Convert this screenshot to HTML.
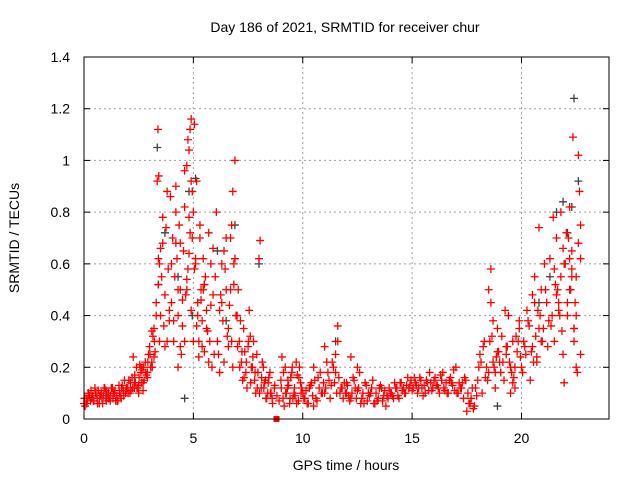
<!DOCTYPE html>
<html><head><meta charset="utf-8"><style>
body{margin:0;background:#fff;}
svg{display:block;font-family:"Liberation Sans",sans-serif;}
</style></head><body>
<svg id="chart" width="640" height="480">
<text x="345" y="32" font-size="14" text-anchor="middle">Day 186 of 2021, SRMTID for receiver chur</text>
<text x="346" y="470" font-size="14" text-anchor="middle">GPS time / hours</text>
<text transform="translate(19,238) rotate(-90)" font-size="14" text-anchor="middle">SRMTID / TECUs</text>
<g id="grid"></g>
<g id="ticks"></g>
<g id="gray"></g>
<g id="red"></g>
<rect x="84" y="57" width="525" height="362" fill="none" stroke="#000" stroke-width="1"/>
</svg>
<script>
const xTicks=[0,5,10,15,20];
const yTicks=[0,0.2,0.4,0.6,0.8,1,1.2,1.4];
const yTickLabels=["0","0.2","0.4","0.6","0.8","1","1.2","1.4"];
const hoursRed=[
0,0.1,0.2,0.3,0.4,0.5,0.6,0.7,0.8,0.9,1.0,1.1,1.2,1.3,1.4,1.5,1.6,1.7,1.8,1.9,0.05,0.25,0.45,0.65,0.85,1.05,1.25,1.45,1.65,1.85,
2.0,2.1,2.2,2.3,2.4,2.5,2.6,2.7,2.8,2.9,2.05,2.25,2.45,2.65,2.85,2.15,2.35,2.55,2.75,2.95,
3.0,3.1,3.2,3.3,3.4,3.35,3.38,3.42,3.45,3.5,3.55,3.6,3.65,3.7,3.75,3.8,3.85,3.9,3.95,3.05,3.15,3.25,3.3,3.4,3.5,3.6,3.7,3.8,3.9,3.45,
4.0,4.05,4.1,4.15,4.2,4.25,4.3,4.35,4.4,4.45,4.5,4.55,4.6,4.65,4.7,4.75,4.8,4.85,4.9,4.95,4.0,4.1,4.2,4.3,4.4,4.5,4.6,4.7,4.8,4.9,4.75,4.8,4.85,4.9,4.95,4.6,4.7,4.3,4.2,4.4,
5.0,5.05,5.1,5.15,5.2,5.25,5.3,5.35,5.4,5.45,5.5,5.55,5.6,5.65,5.7,5.75,5.8,5.85,5.9,5.95,5.0,5.1,5.2,5.3,5.4,5.5,5.6,5.7,5.8,5.9,5.05,5.15,5.25,5.35,5.45,
6.0,6.1,6.2,6.3,6.4,6.5,6.6,6.7,6.8,6.9,6.05,6.15,6.25,6.35,6.45,6.55,6.65,6.75,6.85,6.95,6.2,6.4,6.6,6.7,6.8,6.9,6.75,6.85,6.5,6.3,
7.0,7.1,7.2,7.3,7.4,7.5,7.6,7.7,7.8,7.9,7.05,7.15,7.25,7.35,7.45,7.55,7.65,7.75,7.85,7.95,8.0,8.05,8.1,8.2,8.3,8.4,8.5,8.6,8.7,8.15,8.25,8.35,8.45,8.55,
9.0,9.1,9.2,9.3,9.4,9.5,9.6,9.7,9.8,9.9,9.05,9.25,9.45,9.65,9.85,9.15,9.35,9.55,9.75,9.95,
10.0,10.2,10.4,10.6,10.8,11.0,11.2,11.4,11.6,11.8,10.1,10.3,10.5,10.7,10.9,11.1,11.3,11.5,11.7,11.9,10.5,11.0,11.5,11.6,12.0,
12.0,12.2,12.4,12.6,12.8,13.0,13.2,13.4,13.6,13.8,12.1,12.3,12.5,12.7,12.9,13.1,13.3,13.5,13.7,13.9,12.5,12.2,
14.0,14.2,14.4,14.6,14.8,15.0,15.2,15.4,15.6,15.8,14.1,14.3,14.5,14.7,14.9,15.1,15.3,15.5,15.7,15.9,
16.0,16.2,16.4,16.6,16.8,17.0,17.2,17.4,17.6,17.8,16.1,16.3,16.5,16.7,16.9,17.1,17.3,17.5,17.7,17.9,
18.0,18.1,18.2,18.3,18.4,18.5,18.6,18.7,18.8,18.9,18.05,18.25,18.45,18.65,18.85,18.5,18.7,18.9,18.6,18.8,
19.0,19.1,19.2,19.3,19.4,19.5,19.6,19.7,19.8,19.9,19.05,19.25,19.45,19.65,19.85,19.3,19.5,19.7,19.9,19.6,
20.0,20.1,20.2,20.3,20.4,20.5,20.6,20.7,20.8,20.9,20.05,20.25,20.45,20.65,20.85,20.6,20.8,20.9,20.7,20.5,
21.0,21.1,21.2,21.3,21.4,21.5,21.6,21.7,21.8,21.9,21.05,21.25,21.45,21.65,21.85,21.5,21.7,21.9,21.8,21.6,
22.0,22.1,22.2,22.3,22.4,22.5,22.6,22.7,22.05,22.25,22.45,22.65,22.2,22.35,22.5,22.6,22.7,22.4,22.3,22.55,21.95,22.15
];
const valuesRed=[
0.06,0.08,0.1,0.07,0.09,0.12,0.08,0.06,0.1,0.09,0.11,0.08,0.07,0.12,0.1,0.09,0.13,0.08,0.11,0.1,0.05,0.09,0.07,0.11,0.06,0.1,0.12,0.07,0.09,0.15,
0.12,0.1,0.16,0.14,0.2,0.13,0.18,0.11,0.22,0.16,0.15,0.24,0.12,0.19,0.17,0.11,0.14,0.21,0.15,0.25,
0.28,0.22,0.35,0.45,0.62,0.92,1.12,0.94,0.3,0.4,0.55,0.68,0.36,0.48,0.74,0.3,0.58,0.42,0.86,0.2,0.32,0.26,0.4,0.52,0.66,0.78,0.28,0.88,0.38,0.6,
0.45,0.7,0.3,0.55,0.9,0.62,0.4,0.75,0.5,0.25,0.36,0.65,0.82,0.48,0.98,0.58,1.04,0.72,0.42,0.88,0.6,0.38,0.8,0.2,0.68,0.46,0.3,0.54,0.64,1.16,1.08,0.78,1.12,0.92,0.7,0.96,0.5,0.5,0.68,0.28,
0.8,1.14,0.62,0.92,0.45,0.3,0.7,0.5,0.38,0.62,0.26,0.55,0.42,0.34,0.72,0.3,0.6,0.2,0.48,0.25,0.3,0.6,0.4,0.75,0.28,0.52,0.35,0.22,0.44,0.66,0.58,0.36,0.24,0.46,0.5,
0.55,0.3,0.42,0.6,0.22,0.7,0.35,0.5,0.2,0.62,0.8,0.25,0.48,0.38,0.58,0.32,0.44,0.3,0.52,0.4,0.18,0.65,0.28,0.7,0.88,1.0,0.75,0.6,0.5,0.45,
0.4,0.3,0.22,0.35,0.18,0.28,0.32,0.2,0.15,0.25,0.5,0.38,0.15,0.26,0.12,0.42,0.2,0.3,0.1,0.18,0.62,0.69,0.12,0.2,0.15,0.1,0.18,0.08,0.12,0.22,0.14,0.08,0.16,0.1,
0.15,0.08,0.2,0.12,0.06,0.18,0.1,0.22,0.07,0.14,0.24,0.1,0.16,0.09,0.2,0.05,0.13,0.08,0.17,0.12,
0.1,0.06,0.14,0.08,0.18,0.1,0.15,0.2,0.36,0.12,0.08,0.12,0.05,0.16,0.1,0.22,0.13,0.25,0.1,0.14,0.2,0.28,0.18,0.3,0.1,
0.14,0.08,0.12,0.18,0.06,0.1,0.15,0.07,0.12,0.05,0.09,0.16,0.11,0.08,0.13,0.1,0.06,0.12,0.09,0.08,0.2,0.24,
0.1,0.14,0.08,0.12,0.16,0.11,0.13,0.15,0.1,0.18,0.09,0.12,0.14,0.1,0.13,0.16,0.12,0.09,0.14,0.11,
0.15,0.12,0.18,0.1,0.14,0.2,0.12,0.16,0.06,0.04,0.13,0.17,0.11,0.15,0.19,0.1,0.14,0.03,0.08,0.12,
0.15,0.25,0.1,0.3,0.2,0.18,0.45,0.22,0.12,0.35,0.2,0.28,0.15,0.32,0.24,0.5,0.38,0.26,0.58,0.18,
0.22,0.32,0.15,0.28,0.4,0.2,0.3,0.12,0.26,0.35,0.18,0.42,0.22,0.16,0.3,0.25,0.1,0.2,0.38,0.14,
0.2,0.3,0.25,0.38,0.15,0.28,0.45,0.22,0.35,0.5,0.18,0.42,0.26,0.32,0.4,0.55,0.74,0.3,0.24,0.48,
0.35,0.5,0.28,0.62,0.4,0.3,0.7,0.45,0.55,0.25,0.6,0.38,0.78,0.5,0.34,0.58,0.42,0.66,0.8,0.48,
0.6,0.4,0.82,0.65,0.3,0.55,0.68,0.25,0.72,0.5,0.45,0.88,0.62,1.09,0.2,1.02,0.75,0.35,0.58,0.18,0.14,0.7
];
const hoursRed2=[
0.02,0.12,0.22,0.32,0.42,0.52,0.62,0.72,0.82,0.92,1.02,1.12,1.22,1.32,1.42,1.52,1.62,1.72,1.82,1.92,0.15,0.35,0.55,0.75,0.95,1.15,1.35,1.55,1.75,1.95,
2.02,2.12,2.22,2.32,2.42,2.52,2.62,2.72,2.82,2.92,3.02,3.12,3.22,2.5,2.7,2.9,3.1,3.2,2.3,2.6,
7.02,7.12,7.22,7.32,7.42,7.52,7.62,7.72,7.82,7.92,8.02,8.12,8.22,8.32,8.42,8.52,8.62,8.72,8.82,8.92,
9.02,9.12,9.22,9.32,9.42,9.52,9.62,9.72,9.82,9.92,10.05,10.15,10.25,10.35,10.45,10.55,10.65,10.75,10.85,10.95,
11.05,11.15,11.25,11.35,11.45,11.55,11.65,11.75,11.85,11.95,12.05,12.15,12.25,12.35,12.45,12.55,12.65,12.75,12.85,12.95,
13.05,13.15,13.25,13.35,13.45,13.55,13.65,13.75,13.85,13.95,14.05,14.15,14.25,14.35,14.45,14.55,14.65,14.75,14.85,14.95,
15.05,15.15,15.25,15.35,15.45,15.55,15.65,15.75,15.85,15.95,16.05,16.15,16.25,16.35,16.45,16.55,16.65,16.75,16.85,16.95,
17.05,17.15,17.25,17.35,17.45,17.55,17.65,17.75,17.85,17.95,18.15,18.35,18.55,18.75,18.95,19.15,19.35,19.55,19.75,19.95,
20.15,20.35,20.55,20.75,20.95,21.15,21.35,21.55,21.75,21.95,22.1,22.3,22.5,22.7,22.2,22.4
];
const valuesRed2=[
0.08,0.06,0.09,0.11,0.07,0.1,0.06,0.09,0.08,0.12,0.07,0.1,0.09,0.08,0.11,0.07,0.1,0.12,0.09,0.11,0.07,0.08,0.1,0.09,0.12,0.08,0.1,0.07,0.13,0.12,
0.1,0.14,0.12,0.17,0.12,0.16,0.14,0.2,0.18,0.22,0.25,0.2,0.3,0.1,0.14,0.18,0.34,0.24,0.12,0.2,
0.28,0.2,0.26,0.16,0.22,0.3,0.14,0.24,0.18,0.12,0.1,0.16,0.12,0.08,0.14,0.1,0.06,0.13,0.09,0.07,
0.12,0.18,0.1,0.15,0.08,0.2,0.12,0.06,0.16,0.1,0.08,0.11,0.06,0.13,0.09,0.15,0.07,0.12,0.1,0.14,
0.12,0.18,0.08,0.22,0.14,0.1,0.16,0.12,0.08,0.1,0.13,0.07,0.1,0.15,0.08,0.12,0.06,0.1,0.14,0.07,
0.09,0.12,0.06,0.1,0.08,0.13,0.07,0.11,0.09,0.12,0.1,0.08,0.12,0.09,0.14,0.11,0.1,0.13,0.12,0.15,
0.12,0.14,0.1,0.16,0.12,0.13,0.15,0.11,0.14,0.12,0.16,0.13,0.1,0.15,0.12,0.14,0.1,0.16,0.13,0.11,
0.1,0.14,0.12,0.08,0.15,0.1,0.06,0.12,0.05,0.09,0.22,0.16,0.3,0.2,0.26,0.22,0.28,0.18,0.32,0.24,
0.28,0.36,0.22,0.42,0.3,0.45,0.36,0.52,0.4,0.6,0.45,0.55,0.4,0.62,0.5,0.35
];
const hoursGray=[0.2,1.0,3.35,3.4,3.7,4.3,4.6,4.8,4.95,5.1,5.5,6.1,6.5,6.9,8.0,11.5,18.9,20.8,21.3,21.6,21.9,22.1,22.3,22.4,22.6];
const valuesGray=[0.1,0.08,1.05,0.52,0.72,0.55,0.08,0.88,0.4,0.93,0.52,0.65,0.38,0.75,0.6,0.3,0.05,0.45,0.55,0.8,0.84,0.72,0.82,1.24,0.92];
const sq=[8.8,0];

const NS="http://www.w3.org/2000/svg";
const L=84,R=609,T=57,B=419;
function xs(h){return L+(h/24)*(R-L);}
function ys(v){return B-(v/1.4)*(B-T);}
const grid=document.getElementById('grid'),ticks=document.getElementById('ticks');
function mk(tag,attrs,parent){const e=document.createElementNS(NS,tag);for(const k in attrs)e.setAttribute(k,attrs[k]);parent.appendChild(e);return e;}
xTicks.forEach(t=>{
  const x=xs(t);
  if(t>0){const g=mk('line',{x1:x,x2:x,y1:T,y2:B,stroke:'#a0a0a0','stroke-dasharray':'2,3'},grid);
  
  }
  mk('line',{x1:x,x2:x,y1:B,y2:B-6,stroke:'#000'},ticks);
  mk('line',{x1:x,x2:x,y1:T,y2:T+6,stroke:'#000'},ticks);
  const tx=mk('text',{x:x,y:B+24,'font-size':14,'text-anchor':'middle'},ticks);tx.textContent=t;
  
  
});
yTicks.forEach((t,i)=>{
  const y=ys(t);
  if(t>0&&t<1.4){const g=mk('line',{x1:L,x2:R,y1:y,y2:y,stroke:'#a0a0a0','stroke-dasharray':'2,3'},grid);
  
  }
  mk('line',{x1:L,x2:L+6,y1:y,y2:y,stroke:'#000'},ticks);
  mk('line',{x1:R,x2:R-6,y1:y,y2:y,stroke:'#000'},ticks);
  const tx=mk('text',{x:L-14,y:y+5,'font-size':14,'text-anchor':'end'},ticks);tx.textContent=yTickLabels[i];
  
  
});
function plus(h,v,color,parent,name){
  const x=xs(h),y=ys(v);
  const p=mk('path',{d:`M${x-4} ${y}H${x+4}M${x} ${y-4}V${y+4}`,stroke:color,'stroke-width':1.3,fill:'none'},parent);
  
  
}
const gG=document.getElementById('gray'),gR=document.getElementById('red');
hoursGray.forEach((h,i)=>plus(h,valuesGray[i],'#404040',gG,'gray-point'));
hoursRed.forEach((h,i)=>plus(h,valuesRed[i],'#ff0000',gR,'red-point'));
hoursRed2.forEach((h,i)=>plus(h,valuesRed2[i],'#ff0000',gR,'red-point'));
const s=mk('rect',{x:xs(sq[0])-3,y:ys(sq[1])-3,width:6,height:6,fill:'#ff0000'},gR);


</script>
</body></html>
